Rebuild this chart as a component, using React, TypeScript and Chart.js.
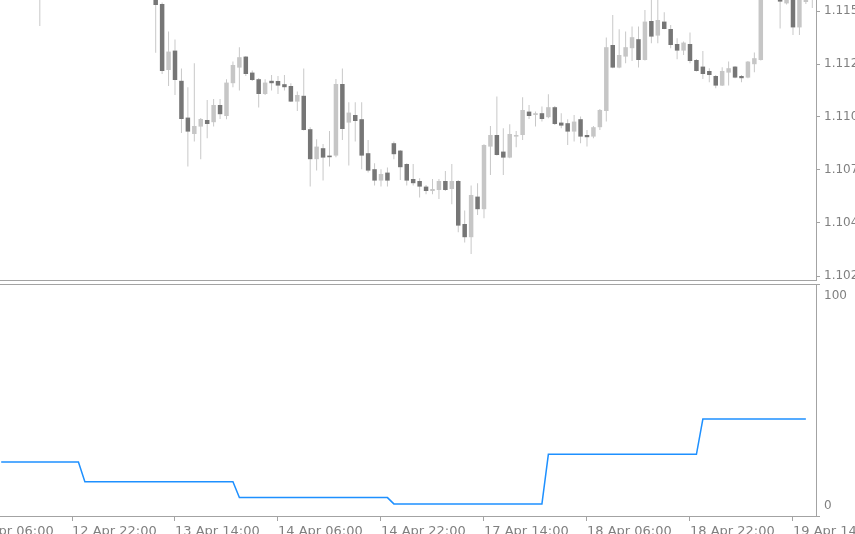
import React, { useEffect, useRef } from "react";
import { Chart, registerables } from "chart.js";

Chart.register(...registerables);

// Hourly bars, index 0 = 12 Apr 11:00 (weekend hours are skipped)
const opens = [
  1.1172, 1.1174, 1.1177, 1.11745, 1.11715, 1.1168, 1.1165, 1.1169, 1.1174, 1.11775,
  1.1176, 1.1179, 1.118, 1.1178, 1.1181, 1.1183, 1.11815, 1.11795, 1.1182, 1.11845,
  1.1181, 1.11775, 1.1175, 1.1172, 1.1168, 1.11565, 1.11235, 1.11332, 1.11181, 1.10997,
  1.10915, 1.10952, 1.10985, 1.10974, 1.1106, 1.11005, 1.11169, 1.11247, 1.11302, 1.11222,
  1.11189, 1.11115, 1.11181, 1.1118, 1.11164, 1.11155, 1.11077, 1.11106, 1.10939, 1.10789,
  1.10844, 1.10807, 1.10807, 1.11165, 1.10972, 1.1101, 1.10989, 1.10819, 1.10739, 1.10682,
  1.10722, 1.10869, 1.10832, 1.10765, 1.1069, 1.1068, 1.10652, 1.1063, 1.10635, 1.1068,
  1.1064, 1.1068, 1.10465, 1.10399, 1.10602, 1.10539, 1.10852, 1.1091, 1.10827, 1.10797,
  1.10902, 1.1091, 1.11027, 1.1101, 1.11019, 1.10999, 1.11049, 1.10972, 1.10969, 1.10927,
  1.10989, 1.1091, 1.10902, 1.10949, 1.1103, 1.1136, 1.11247, 1.11302, 1.11344, 1.11389,
  1.11285, 1.1148, 1.11407, 1.11477, 1.1144, 1.11365, 1.11332, 1.11365, 1.11285, 1.11252,
  1.1123, 1.11205, 1.11157, 1.11222, 1.11252, 1.11205, 1.11197, 1.11264, 1.11285, 1.11685,
  1.1172, 1.1161, 1.11568, 1.11625, 1.11448, 1.11575, 1.116,
];
const highs = [
  1.1176, 1.1179, 1.118, 1.1177, 1.1175, 1.1172, 1.117, 1.1176, 1.1179, 1.1181,
  1.118, 1.1183, 1.1184, 1.1182, 1.1185, 1.1186, 1.1184, 1.1183, 1.1186, 1.1187,
  1.1183, 1.118, 1.1178, 1.1174, 1.1169, 1.11572, 1.11427, 1.11388, 1.11243, 1.11149,
  1.11269, 1.10995, 1.11085, 1.1109, 1.1109, 1.11189, 1.11277, 1.11349, 1.11305, 1.11232,
  1.11195, 1.11189, 1.1121, 1.11205, 1.1121, 1.11169, 1.11127, 1.11243, 1.10949, 1.10889,
  1.10865, 1.1093, 1.1119, 1.11243, 1.11074, 1.11074, 1.11074, 1.10885, 1.10769, 1.10739,
  1.10747, 1.10877, 1.10835, 1.10769, 1.10765, 1.10694, 1.1066, 1.1069, 1.1069, 1.1073,
  1.10765, 1.10685, 1.10532, 1.10657, 1.10669, 1.10864, 1.10955, 1.11102, 1.10944, 1.10964,
  1.1093, 1.11099, 1.1106, 1.11027, 1.11052, 1.11114, 1.11055, 1.11019, 1.10989, 1.1101,
  1.11002, 1.10935, 1.10955, 1.1104, 1.11398, 1.1151, 1.11439, 1.11427, 1.11452, 1.11452,
  1.11535, 1.116, 1.11595, 1.11524, 1.1146, 1.11394, 1.11377, 1.11422, 1.1129, 1.1133,
  1.11244, 1.1121, 1.11249, 1.11277, 1.11255, 1.1121, 1.1128, 1.11322, 1.11735, 1.1176,
  1.1177, 1.11635, 1.11635, 1.11645, 1.11635, 1.11645, 1.11645,
];
const lows = [
  1.1169, 1.11715, 1.1173, 1.117, 1.1166, 1.1163, 1.11455, 1.1167, 1.1172, 1.1174,
  1.1173, 1.1176, 1.1177, 1.1175, 1.1179, 1.118, 1.1178, 1.1177, 1.118, 1.118,
  1.1176, 1.1173, 1.117, 1.1166, 1.11321, 1.11215, 1.11155, 1.1111, 1.1092, 1.10752,
  1.10877, 1.10789, 1.10894, 1.10952, 1.1099, 1.10989, 1.11149, 1.11132, 1.11205, 1.1118,
  1.11047, 1.1111, 1.11132, 1.11115, 1.11132, 1.11075, 1.1103, 1.10932, 1.10652, 1.10732,
  1.10682, 1.10752, 1.10799, 1.10885, 1.10757, 1.10877, 1.10739, 1.10722, 1.10657, 1.10652,
  1.10652, 1.10789, 1.10685, 1.10657, 1.10657, 1.10597, 1.10614, 1.10614, 1.1059, 1.1063,
  1.10564, 1.10424, 1.10372, 1.10315, 1.1051, 1.10494, 1.1071, 1.10807, 1.1071, 1.10794,
  1.10849, 1.10885, 1.1099, 1.10952, 1.10977, 1.10994, 1.1096, 1.10944, 1.1086, 1.10877,
  1.10869, 1.10852, 1.10894, 1.10935, 1.10977, 1.11244, 1.11244, 1.11269, 1.1128, 1.11247,
  1.11282, 1.11369, 1.11369, 1.11439, 1.11344, 1.11289, 1.1131, 1.11269, 1.11227, 1.1119,
  1.11174, 1.11144, 1.11155, 1.11157, 1.11194, 1.11174, 1.11194, 1.11224, 1.11282, 1.1164,
  1.1165, 1.11443, 1.11562, 1.1141, 1.1141, 1.11565, 1.11545,
];
const closes = [
  1.1174, 1.1177, 1.11745, 1.11715, 1.1168, 1.1165, 1.1169, 1.1174, 1.11775, 1.1176,
  1.1179, 1.118, 1.1178, 1.1181, 1.1183, 1.11815, 1.11795, 1.1182, 1.11845, 1.1181,
  1.11775, 1.1175, 1.1172, 1.1168, 1.1156, 1.1123, 1.11327, 1.11185, 1.1099, 1.10927,
  1.10955, 1.1099, 1.10965, 1.1106, 1.11014, 1.11172, 1.1126, 1.11299, 1.11215, 1.11185,
  1.11115, 1.11172, 1.11169, 1.11157, 1.11149, 1.11077, 1.1111, 1.10935, 1.10789, 1.10852,
  1.10797, 1.10799, 1.11165, 1.1094, 1.11022, 1.1098, 1.10807, 1.10732, 1.10682, 1.10715,
  1.10682, 1.10814, 1.10749, 1.10682, 1.10669, 1.10652, 1.1063, 1.1064, 1.1068, 1.10635,
  1.1068, 1.10457, 1.10399, 1.1061, 1.10539, 1.1086, 1.1091, 1.1081, 1.10797, 1.10915,
  1.1091, 1.11035, 1.11005, 1.11019, 1.1099, 1.11049, 1.10965, 1.10957, 1.10927, 1.10977,
  1.10902, 1.10899, 1.10949, 1.11035, 1.11349, 1.11247, 1.1131, 1.11349, 1.11399, 1.11285,
  1.11477, 1.11402, 1.11485, 1.1144, 1.1136, 1.11332, 1.11372, 1.1128, 1.1123, 1.11215,
  1.1121, 1.11157, 1.1123, 1.11244, 1.11197, 1.11194, 1.11277, 1.11294, 1.11685, 1.1172,
  1.1168, 1.11577, 1.1161, 1.11448, 1.1161, 1.11625, 1.11625,
];

// Oscillator pane (0..100), one value per bar
const indicatorValues = [
  21, 21, 21, 21, 21, 21, 21, 21, 21, 21, 21, 21, 21,
  11.6, 11.6, 11.6, 11.6, 11.6, 11.6, 11.6, 11.6, 11.6, 11.6, 11.6, 11.6,
  11.6, 11.6, 11.6, 11.6, 11.6, 11.6, 11.6, 11.6, 11.6, 11.6, 11.6, 11.6,
  4, 4, 4, 4, 4, 4, 4, 4, 4, 4, 4, 4,
  4, 4, 4, 4, 4, 4, 4, 4, 4, 4, 4, 4,
  1, 1, 1, 1, 1, 1, 1, 1, 1, 1, 1, 1,
  1, 1, 1, 1, 1, 1, 1, 1, 1, 1, 1, 1,
  24.6, 24.6, 24.6, 24.6, 24.6, 24.6, 24.6, 24.6, 24.6, 24.6, 24.6, 24.6,
  24.6, 24.6, 24.6, 24.6, 24.6, 24.6, 24.6, 24.6, 24.6, 24.6, 24.6, 24.6,
  41.4, 41.4, 41.4, 41.4, 41.4, 41.4, 41.4, 41.4, 41.4, 41.4, 41.4, 41.4,
  41.4, 41.4, 41.4, 41.4, 41.4,
];

const priceTickValues = [1.1153, 1.11265, 1.11, 1.10735, 1.1047, 1.10205];
const priceTickLabels = ["1.11530", "1.11265", "1.11000", "1.10735", "1.10470", "1.10205"];
const indicatorTickValues = [0, 100];
const indicatorTickLabels = ["0", "100"];
const timeTickIndex = [-5, 11, 27, 43, 59, 75, 91, 107, 123];
const timeTickLabels = [
  "12 Apr 06:00", "12 Apr 22:00", "13 Apr 14:00", "14 Apr 06:00", "14 Apr 22:00",
  "17 Apr 14:00", "18 Apr 06:00", "18 Apr 22:00", "19 Apr 14:00",
];

const PRICE_MIN = 1.10185;
const PRICE_MAX = 1.11585;
const IND_MIN = -4.762;
const IND_MAX = 105.714;
const X_MIN = -0.185;
const X_MAX = 126.575;

const BULL = "#c6c6c6";
const BEAR = "#767676";
const WICK = "#c8c8c8";
const FRAME = "#a3a3a3";
const TEXT = "#808080";
const LINE = "#1e90ff";
const FONT = "DejaVu Sans";

const fixSize = (size: number) => (scale: any) => {
  if (scale.isHorizontal()) scale.height = size;
  else scale.width = size;
  scale.paddingLeft = 0;
  scale.paddingRight = 0;
  scale.paddingTop = 0;
  scale.paddingBottom = 0;
};

const topFrame = {
  id: "topFrame",
  afterDraw(chart: any) {
    const { ctx, chartArea } = chart;
    ctx.save();
    ctx.fillStyle = FRAME;
    ctx.fillRect(0, chartArea.bottom, chartArea.right + 1, 1);
    ctx.fillRect(chartArea.right, 0, 1, chartArea.bottom + 1);
    ctx.restore();
  },
};

const bottomFrame = {
  id: "bottomFrame",
  afterDraw(chart: any) {
    const { ctx, chartArea } = chart;
    ctx.save();
    ctx.fillStyle = FRAME;
    ctx.fillRect(0, chartArea.top, chartArea.right + 4, 1);
    ctx.fillRect(0, chartArea.bottom, chartArea.right + 4, 1);
    ctx.fillRect(chartArea.right, chartArea.top, 1, chartArea.bottom - chartArea.top + 1);
    ctx.restore();
  },
};

export default function App() {
  const topRef = useRef<HTMLCanvasElement>(null);
  const botRef = useRef<HTMLCanvasElement>(null);

  useEffect(() => {
    const idx = opens.map((_, i) => i);
    const wickData = idx.map((i) => ({ x: i, y: [lows[i], highs[i]] }));
    const bodyData = idx.map((i) => ({ x: i, y: [opens[i], closes[i]] }));

    const top = new Chart(topRef.current as HTMLCanvasElement, {
      type: "bar",
      data: {
        datasets: [
          {
            label: "body",
            data: bodyData as any,
            order: 0,
            grouped: false,
            barThickness: 4.5,
            borderWidth: 0,
            borderSkipped: false,
            inflateAmount: 0,
            backgroundColor: (c: any) =>
              closes[c.dataIndex] >= opens[c.dataIndex] ? BULL : BEAR,
          } as any,
          {
            label: "wick",
            data: wickData as any,
            order: 1,
            grouped: false,
            barThickness: 1,
            borderWidth: 0,
            borderSkipped: false,
            inflateAmount: 0,
            backgroundColor: WICK,
          } as any,
        ],
      },
      options: {
        responsive: false,
        maintainAspectRatio: false,
        devicePixelRatio: 1,
        animation: false,
        events: [],
        layout: { padding: { left: 0, right: 0, top: 0, bottom: 2 } },
        plugins: { legend: { display: false }, tooltip: { enabled: false } },
        scales: {
          x: { type: "linear", display: false, offset: false, min: X_MIN, max: X_MAX },
          y: {
            type: "linear",
            position: "right",
            min: PRICE_MIN,
            max: PRICE_MAX,
            afterBuildTicks: (s: any) => {
              s.ticks = priceTickValues.map((v) => ({ value: v }));
            },
            afterFit: fixSize(39),
            border: { display: false },
            grid: { drawOnChartArea: false, drawTicks: true, tickLength: 4, color: FRAME },
            ticks: {
              padding: 4,
              color: TEXT,
              font: { family: FONT, size: 12 },
              callback: (_v: any, i: number) => priceTickLabels[i],
            },
          },
        },
      },
      plugins: [topFrame],
    });

    const bot = new Chart(botRef.current as HTMLCanvasElement, {
      type: "line",
      data: {
        datasets: [
          {
            label: "indicator",
            data: indicatorValues.map((v, i) => ({ x: i, y: v })),
            borderColor: LINE,
            borderWidth: 1.5,
            pointRadius: 0,
            tension: 0,
            fill: false,
          },
        ],
      },
      options: {
        responsive: false,
        maintainAspectRatio: false,
        devicePixelRatio: 1,
        animation: false,
        events: [],
        layout: { padding: { left: 0, right: 0, top: 2, bottom: 0 } },
        plugins: { legend: { display: false }, tooltip: { enabled: false } },
        scales: {
          x: {
            type: "linear",
            position: "bottom",
            offset: false,
            min: X_MIN,
            max: X_MAX,
            afterBuildTicks: (s: any) => {
              s.ticks = timeTickIndex.map((v) => ({ value: v }));
            },
            afterFit: fixSize(18),
            border: { display: false },
            grid: { drawOnChartArea: false, drawTicks: true, tickLength: 5, color: FRAME },
            ticks: {
              align: "start",
              autoSkip: false,
              maxRotation: 0,
              minRotation: 0,
              padding: 3,
              color: TEXT,
              font: { family: FONT, size: 13 },
              callback: (_v: any, i: number) => timeTickLabels[i],
            },
          },
          y: {
            type: "linear",
            position: "right",
            min: IND_MIN,
            max: IND_MAX,
            afterBuildTicks: (s: any) => {
              s.ticks = indicatorTickValues.map((v) => ({ value: v }));
            },
            afterFit: fixSize(39),
            border: { display: false },
            grid: {
              drawOnChartArea: false,
              drawTicks: true,
              tickLength: 4,
              color: "rgba(0,0,0,0)",
            },
            ticks: {
              padding: 4,
              color: TEXT,
              font: { family: FONT, size: 12 },
              callback: (v: any) => indicatorTickLabels[indicatorTickValues.indexOf(v)],
            },
          },
        },
      },
      plugins: [bottomFrame],
    });

    return () => {
      top.destroy();
      bot.destroy();
    };
  }, []);

  return (
    <div
      style={{
        position: "fixed",
        left: 0,
        top: 0,
        width: 855,
        height: 534,
        background: "#ffffff",
        overflow: "hidden",
      }}
    >
      <canvas
        ref={topRef}
        width={855}
        height={282}
        style={{ position: "absolute", left: 0, top: 0, width: 855, height: 282, display: "block" }}
      />
      <canvas
        ref={botRef}
        width={855}
        height={252}
        style={{ position: "absolute", left: 0, top: 282, width: 855, height: 252, display: "block" }}
      />
    </div>
  );
}
